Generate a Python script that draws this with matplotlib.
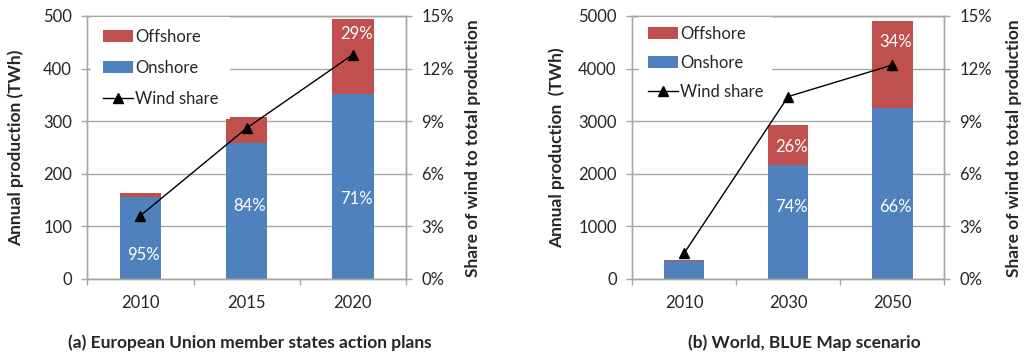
import matplotlib
matplotlib.use('Agg')
import matplotlib.pyplot as plt
from matplotlib.patches import Patch
from matplotlib.lines import Line2D
from matplotlib.ticker import FixedLocator, FuncFormatter

plt.rcParams['font.family'] = ['Lato', 'DejaVu Sans']

BLUE = '#4F81BD'
RED = '#C0504D'
GRID = '#A6A6A6'
TXT = '#262626'

# European Union member states action plans (TWh, share in %)
eu_years = ['2010', '2015', '2020']
eu_onshore = [156, 258, 351]
eu_offshore = [8, 49, 143]
eu_share = [3.6, 8.6, 12.8]

# World, BLUE Map scenario (TWh, share in %)
world_years = ['2010', '2030', '2050']
world_onshore = [330, 2160, 3240]
world_offshore = [32, 760, 1670]
world_share = [1.45, 10.4, 12.2]

fig = plt.figure(figsize=(10.24, 3.52), dpi=100)
W, H = 1024.0, 352.0
FS = 12
BFS = 12.5


def px_rect(x0, x1, y_top, y_bot):
    return [x0 / W, 1 - y_bot / H, (x1 - x0) / W, (y_bot - y_top) / H]


def panel(rect, years, onshore, offshore, share, ymax, ystep, labels,
          legend_anchor, legend_spacing, legend_pad, ylab, ylab_x, y2lab_x,
          caption, cap_x):
    ax = fig.add_axes(rect)
    x = list(range(len(years)))
    ax.bar(x, onshore, width=0.39, color=BLUE, zorder=2)
    ax.bar(x, offshore, width=0.39, bottom=onshore, color=RED, zorder=2)

    ax.set_xlim(-0.5, len(years) - 0.5)
    ax.set_ylim(0, ymax)
    ax.yaxis.set_major_locator(FixedLocator(range(0, ymax + 1, ystep)))
    ax.yaxis.grid(True, color=GRID, lw=1)
    ax.set_axisbelow(True)
    ax.set_xticks(x)
    ax.set_xticklabels(years)
    ax.xaxis.set_minor_locator(FixedLocator([i - 0.5 for i in range(len(years) + 1)]))
    ax.tick_params(axis='x', which='major', length=0, pad=12, labelsize=FS, labelcolor=TXT)
    ax.tick_params(axis='x', which='minor', length=4, color=GRID, width=1, direction='out')
    ax.tick_params(axis='y', length=4, color=GRID, width=1, pad=7, labelsize=FS, labelcolor=TXT)
    for s in ax.spines.values():
        s.set_color(GRID)
        s.set_linewidth(1)

    # share of each segment in its bar, written inside the segment
    for seg, i, frac in labels:
        total = onshore[i] + offshore[i]
        if seg == 'on':
            val, base = onshore[i], 0
        else:
            val, base = offshore[i], onshore[i]
        ax.text(i + 0.03, base + frac * val, f'{round(100 * val / total)}%',
                color='white', fontsize=FS, ha='center', va='center', zorder=3)

    ax2 = ax.twinx()
    ax2.set_ylim(0, 15)
    ax2.yaxis.set_major_locator(FixedLocator(range(0, 16, 3)))
    ax2.yaxis.set_major_formatter(FuncFormatter(lambda v, p: f'{int(v)}%'))
    ax2.tick_params(axis='y', length=4, color=GRID, width=1, pad=7, labelsize=FS, labelcolor=TXT)
    for s in ax2.spines.values():
        s.set_color(GRID)
        s.set_linewidth(1)
    ax2.plot(x, share, color='black', lw=1, marker='^', ms=7, zorder=4)

    handles = [Patch(facecolor=RED, edgecolor='none'),
               Patch(facecolor=BLUE, edgecolor='none'),
               Line2D([], [], color='black', lw=1, marker='^', ms=7)]
    leg = ax2.legend(handles, ['Offshore', 'Onshore', 'Wind share'], loc='upper left',
                     bbox_to_anchor=legend_anchor, frameon=True, fancybox=False,
                     facecolor='white', edgecolor='none', framealpha=1,
                     fontsize=FS, handlelength=1.8, handleheight=0.7,
                     handletextpad=0.15, labelspacing=legend_spacing,
                     borderpad=legend_pad, borderaxespad=0)
    for t in leg.get_texts():
        t.set_color(TXT)

    fig.text(ylab_x / W, 1 - 148 / H, ylab, rotation=90, ha='center', va='center',
             fontsize=BFS, fontweight='bold', color=TXT)
    fig.text(y2lab_x / W, 1 - 148 / H, 'Share of wind to total production', rotation=90,
             ha='center', va='center', fontsize=BFS, fontweight='bold', color=TXT)
    fig.text(cap_x / W, 1 - 343 / H, caption, ha='center', va='center',
             fontsize=BFS, fontweight='bold', color=TXT)
    return ax, ax2


panel(px_rect(87.3, 406, 16, 278.7), eu_years, eu_onshore, eu_offshore, eu_share,
      500, 100,
      [('on', 0, 0.29), ('on', 1, 0.54), ('on', 2, 0.43), ('off', 2, 0.80)],
      (0.012, 0.995), 0.9, 0.7,
      'Annual production (TWh)', 16, 473,
      '(a) European Union member states action plans', 250)

panel(px_rect(632, 944.3, 16, 278.7), world_years, world_onshore, world_offshore, world_share,
      5000, 1000,
      [('on', 1, 0.63), ('off', 1, 0.45), ('on', 2, 0.42), ('off', 2, 0.76)],
      (0.023, 0.995), 0.8, 0.5,
      'Annual production  (TWh)', 557, 1013.7,
      '(b) World, BLUE Map scenario', 804)

fig.savefig('out.png', dpi=100)
